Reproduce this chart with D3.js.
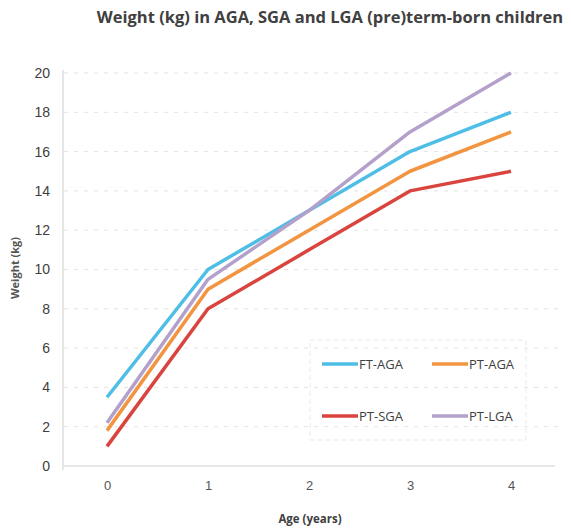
<!DOCTYPE html>
<html>
<head>
<meta charset="utf-8">
<script src="https://cdn.jsdelivr.net/npm/d3@7"></script>
<style>
  body { margin: 0; background: #fff; }
  text { font-family: "Open Sans", "DejaVu Sans", sans-serif; }
</style>
</head>
<body>
<div id="chart"></div>
<script>
var ages = [0, 1, 2, 3, 4]
var seriesNames = ["FT-AGA", "PT-AGA", "PT-SGA", "PT-LGA"]
var ftAga = [3.5, 10, 13, 16, 18]
var ptAga = [1.8, 9, 12, 15, 17]
var ptSga = [1.0, 8, 11, 14, 15]
var ptLga = [2.2, 9.5, 13, 17, 20]
var yTicks = [0, 2, 4, 6, 8, 10, 12, 14, 16, 18, 20]

var colors = {"FT-AGA": "#4ebee6", "PT-AGA": "#f29440", "PT-SGA": "#d9443f", "PT-LGA": "#b3a0cb"}
var values = {"FT-AGA": ftAga, "PT-AGA": ptAga, "PT-SGA": ptSga, "PT-LGA": ptLga}

var width = 571, height = 531
var svg = d3.select("#chart").append("svg")
  .attr("width", width)
  .attr("height", height)

var x = d3.scaleLinear().domain([0, 4]).range([107, 511])
var y = d3.scaleLinear().domain([0, 20]).range([466, 73])

// title
svg.append("text")
  .attr("x", 330)
  .attr("y", 23)
  .attr("text-anchor", "middle")
  .style("font-size", "16.5px")
  .style("font-weight", "bold")
  .style("fill", "#404040")
  .text("Weight (kg) in AGA, SGA and LGA (pre)term-born children")

// grid lines
svg.append("g").selectAll("line")
  .data(yTicks.filter(function(d) { return d > 0 }))
  .enter().append("line")
  .attr("x1", 64).attr("x2", 560)
  .attr("y1", function(d) { return y(d) })
  .attr("y2", function(d) { return y(d) })
  .style("stroke", "#e4e4e4")
  .style("stroke-width", 1)
  .style("stroke-dasharray", "4,6")

// left axis line and baseline
svg.append("line")
  .attr("x1", 63).attr("x2", 63)
  .attr("y1", 70).attr("y2", 470)
  .style("stroke", "#e6e6e6").style("stroke-width", 2)
svg.append("line")
  .attr("x1", 63).attr("x2", 555)
  .attr("y1", y(0)).attr("y2", y(0))
  .style("stroke", "#e8e8e8").style("stroke-width", 2)

// y axis
var yAxis = svg.append("g")
  .attr("transform", "translate(50,0)")
  .call(d3.axisLeft(y).tickValues(yTicks).tickSize(0).tickPadding(0))
yAxis.select(".domain").remove()
yAxis.selectAll("text")
  .style("font-size", "14px")
  .style("fill", "#404040")
  .style("font-family", "'Liberation Sans', Arial, sans-serif")

// x axis
var xAxis = svg.append("g")
  .attr("transform", "translate(0,481)")
  .call(d3.axisBottom(x).tickValues(ages).tickFormat(d3.format("d")).tickSize(0).tickPadding(0))
xAxis.select(".domain").remove()
xAxis.selectAll("text")
  .style("font-size", "13px")
  .style("fill", "#555")
  .style("font-family", "'Liberation Sans', Arial, sans-serif")

// axis titles
svg.append("text")
  .attr("x", 310).attr("y", 523)
  .attr("text-anchor", "middle")
  .style("font-size", "11.5px").style("font-weight", "bold")
  .style("fill", "#404040")
  .text("Age (years)")

svg.append("text")
  .attr("transform", "translate(19,268) rotate(-90)")
  .attr("text-anchor", "middle")
  .style("font-size", "11px").style("font-weight", "bold")
  .style("fill", "#555")
  .text("Weight (kg)")

// lines
var line = d3.line()
  .x(function(d, i) { return x(ages[i]) })
  .y(function(d) { return y(d) })

svg.append("g").selectAll("path")
  .data(seriesNames)
  .enter().append("path")
  .attr("d", function(s) { return line(values[s]) })
  .style("fill", "none")
  .style("stroke", function(s) { return colors[s] })
  .style("stroke-width", 3.5)
  .style("stroke-linejoin", "round")

// legend
var legend = svg.append("g")
svg.append("rect")
  .attr("x", 310).attr("y", 340)
  .attr("width", 216).attr("height", 100)
  .style("fill", "none")
  .style("stroke", "#e8e8e8")
  .style("stroke-dasharray", "5,3")

var legendPos = [[322, 364], [432, 364], [322, 416], [432, 416]]
var item = legend.selectAll("g")
  .data(seriesNames)
  .enter().append("g")
  .attr("transform", function(d, i) { return "translate(" + legendPos[i][0] + "," + legendPos[i][1] + ")" })
item.append("line")
  .attr("x1", 0).attr("x2", 36)
  .style("stroke", function(s) { return colors[s] })
  .style("stroke-width", 3.5)
item.append("text")
  .attr("x", 37).attr("y", 5)
  .style("font-size", "13px")
  .style("fill", "#404040")
  .text(function(s) { return s })
</script>
</body>
</html>
